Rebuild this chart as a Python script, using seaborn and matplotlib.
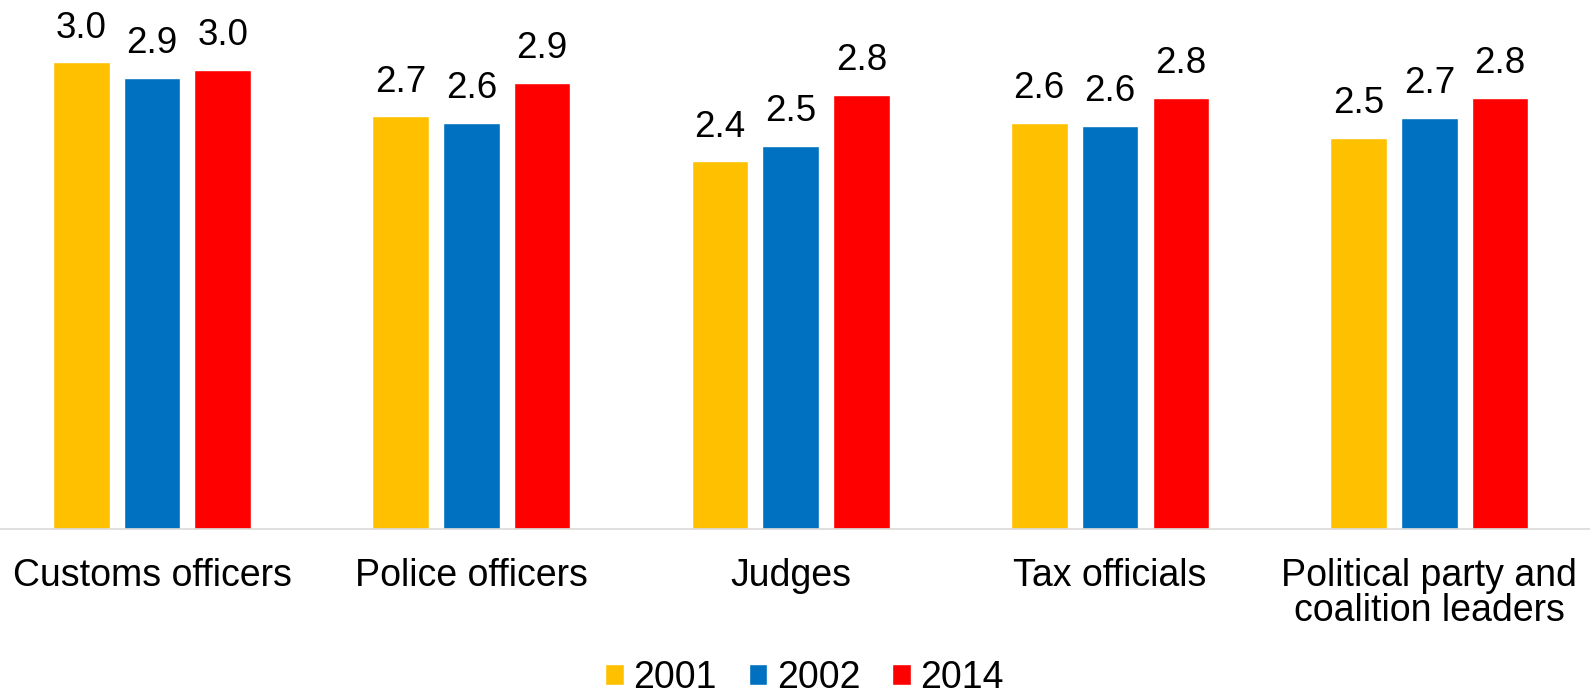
import matplotlib
matplotlib.use("Agg")
import matplotlib.pyplot as plt
import seaborn as sns
import pandas as pd

categories = ["Customs officers", "Police officers", "Judges", "Tax officials",
              "Political party and\ncoalition leaders"]
years = ["2001", "2002", "2014"]
values_2001 = [3.02, 2.67, 2.38, 2.63, 2.53]
values_2002 = [2.92, 2.63, 2.48, 2.61, 2.66]
values_2014 = [2.97, 2.89, 2.81, 2.79, 2.79]
colors = ["#FFC000", "#0070C0", "#FF0000"]

rows = []
for yr, vals in zip(years, [values_2001, values_2002, values_2014]):
    for c, v in zip(categories, vals):
        rows.append({"category": c, "year": yr, "value": v})
df = pd.DataFrame(rows)

sns.set_theme(style="white")
plt.rcParams["font.family"] = ["Liberation Sans", "DejaVu Sans"]
plt.rcParams["text.color"] = "#000000"

fig = plt.figure(figsize=(15.9, 6.93), dpi=100)
ax = fig.add_axes([0.0, 164 / 693, 1.0, 529 / 693])

sns.barplot(data=df, x="category", y="value", hue="year", order=categories,
            hue_order=years, palette=colors, width=0.665, gap=0.2,
            saturation=1, errorbar=None, ax=ax)

for cont in ax.containers:
    ax.bar_label(cont, fmt="%.1f", padding=12, fontsize=26.5, color="#000000")

ax.set_ylim(0, 3.424)
ax.set_xlim(-0.476, 4.503)
ax.set_xlabel("")
ax.set_ylabel("")
ax.set_yticks([])
for s in ["top", "left", "right"]:
    ax.spines[s].set_visible(False)
ax.spines["bottom"].set_color("#D9D9D9")
ax.spines["bottom"].set_linewidth(1.2)
ax.tick_params(axis="x", length=0, pad=21, labelsize=27, colors="#000000")
for t in ax.get_xticklabels():
    t.set_linespacing(0.97)

handles, labels = ax.get_legend_handles_labels()
ax.legend_.remove()
fig.legend(handles, labels, loc="center", bbox_to_anchor=(0.506, 15 / 693),
           ncol=3, frameon=False, fontsize=27, handlelength=0.5,
           handleheight=0.5, handletextpad=0.25, columnspacing=0.85,
           labelcolor="#000000")

fig.savefig("out.png", dpi=100)
